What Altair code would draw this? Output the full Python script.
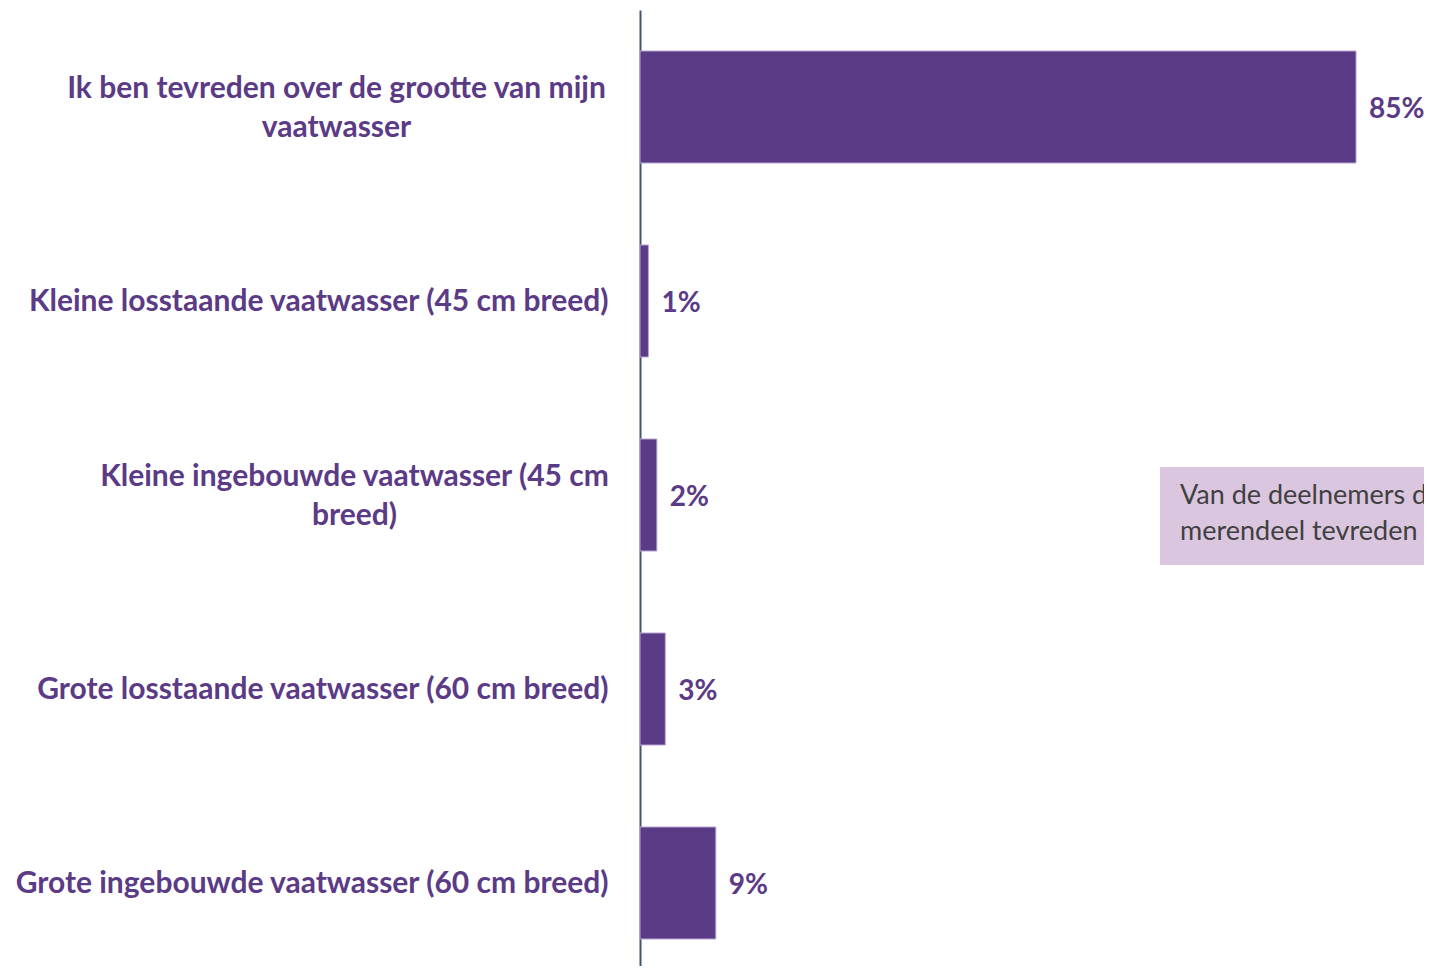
import altair as alt
import pandas as pd

categories = [
    "Ik ben tevreden over de grootte van mijn|vaatwasser",
    "Kleine losstaande vaatwasser (45 cm breed)",
    "Kleine ingebouwde vaatwasser (45 cm|breed)",
    "Grote losstaande vaatwasser (60 cm breed)",
    "Grote ingebouwde vaatwasser (60 cm breed)",
]
values = [85, 1, 2, 3, 9]
note_lines = [
    "Van de deelnemers die een vaatwasser hebben, is het",
    "merendeel tevreden over de grootte van de vaatwasser",
]

PURPLE = "#5B3A86"
FONT = "Lato"

df = pd.DataFrame({"cat": categories, "v": values})
df["lbl"] = df["v"].astype(str) + "%"

y_enc = alt.Y(
    "cat:N",
    sort=categories,
    title=None,
    scale=alt.Scale(paddingInner=0.4227, paddingOuter=0.1753, align=0.603),
    axis=alt.Axis(
        labelExpr="split(datum.value, '|')",
        labelFont=FONT,
        labelFontSize=30,
        labelFontWeight="bold",
        labelColor=PURPLE,
        labelLineHeight=39,
        labelLimit=700,
        labelAlign={"condition": {"test": "indexof(datum.value, '|') >= 0", "value": "center"}, "value": "right"},
        labelOffset={"condition": {"test": "indexof(datum.value, '|') >= 0", "value": -18}, "value": 1},
        labelPadding={
            "condition": [
                {"test": "indexof(datum.value, 'Ik ben') == 0", "value": 304},
                {"test": "indexof(datum.value, 'Kleine ingebouwde') == 0", "value": 286},
            ],
            "value": 32,
        },
        ticks=False,
        grid=False,
        domainColor="#44546A",
        domainWidth=2,
    ),
)
x_enc = alt.X("v:Q", axis=None, scale=alt.Scale(domain=[0, 93.07]))

bars = alt.Chart(df).mark_bar(color=PURPLE, stroke="#B7A2D2", strokeWidth=1).encode(x=x_enc, y=y_enc)
texts = alt.Chart(df).mark_text(
    align="left", baseline="middle", dx=13, dy=3, font=FONT, fontSize=28, fontWeight="bold", color=PURPLE
).encode(x=x_enc, y=alt.Y("cat:N", sort=categories), text="lbl:N")

note_df = pd.DataFrame({"t": [note_lines]})
note_box = alt.Chart(note_df).mark_rect(color="#DBC6E0").encode(
    x=alt.value(520), x2=alt.value(800), y=alt.value(457), y2=alt.value(555)
)
note_text = alt.Chart(note_df).mark_text(
    align="left", baseline="alphabetic", font=FONT, fontSize=27, color="#404040", lineHeight=36
).encode(x=alt.value(540), y=alt.value(494), text="t")

chart = (
    alt.layer(bars, texts, note_box, note_text)
    .properties(
        width=784,
        height=956,
        padding={"left": 632, "top": 2, "right": 0, "bottom": 0},
        autosize=alt.AutoSizeParams(type="none"),
    )
    .configure_view(stroke=None)
)
chart.save("out.html", embed_options={"renderer": "svg", "actions": False})
